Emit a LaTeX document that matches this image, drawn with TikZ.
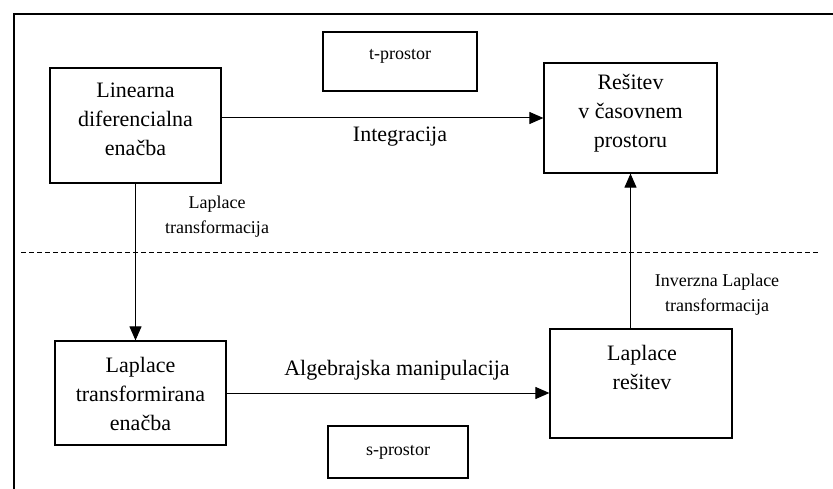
\documentclass[tikz,border=0pt]{standalone}
\usepackage{fontspec}
\setmainfont{Liberation Serif}
\usetikzlibrary{arrows.meta}

\tikzset{
  box/.style={draw=black, line width=1.2pt, rectangle, inner sep=0pt},
  boxtext/.style={align=center, inner sep=0pt, font=\fontsize{22}{29}\selectfont},
  spacetext/.style={align=center, inner sep=0pt, font=\fontsize{18}{24}\selectfont},
  arrlabel/.style={align=center, inner sep=0pt, font=\fontsize{22}{29}\selectfont},
  smalllabel/.style={align=center, inner sep=0pt, font=\fontsize{18}{25}\selectfont},
  arr/.style={line width=1pt, -{Triangle[length=14pt,width=12pt]}},
  frameline/.style={line width=2.2pt},
  divider/.style={line width=1pt, dash pattern=on 5pt off 3pt},
}

\begin{document}
\begin{tikzpicture}[x=1pt, y=-1pt]
  \useasboundingbox (0,0) rectangle (833,489);

  % outer frame (top and left edges)
  \coordinate (fbl) at (14,489);
  \coordinate (ftl) at (14,14);
  \coordinate (ftr) at (833,14);
  \draw[frameline] (fbl) -- (ftl) -- (ftr);

  % divider between t-space and s-space
  \coordinate (dl) at (21,253);
  \coordinate (dr) at (820,253);
  \draw[divider] (dl) -- (dr);

  % boxes
  \node[box, minimum width=171pt, minimum height=115pt] (lde) at (135.5,125.5) {};
  \node[box, minimum width=154pt, minimum height=59pt]  (tsp) at (400,61.5) {};
  \node[box, minimum width=173pt, minimum height=110pt] (sol) at (630.5,118) {};
  \node[box, minimum width=171pt, minimum height=104pt] (lte) at (140.5,393) {};
  \node[box, minimum width=182pt, minimum height=109pt] (lsol) at (641,383.5) {};
  \node[box, minimum width=140pt, minimum height=52pt]  (ssp) at (398,452) {};

  % box texts
  \node[boxtext] (ldet) at (135.5,119) {Linearna\\diferencialna\\enačba};
  \node[spacetext] (tspt) at (400,56) {t-prostor};
  \node[boxtext] (solt) at (630.5,113) {Rešitev\\v časovnem\\prostoru};
  \node[boxtext] (ltet) at (140.5,394) {Laplace\\transformirana\\enačba};
  \node[boxtext] (lsolt) at (642,367.5) {Laplace\\rešitev};
  \node[spacetext] (sspt) at (398,452) {s-prostor};

  % connectors
  \draw[arr] (lde.east |- sol.west) -- (sol.west);
  \draw[arr] (lde.south) -- (lde.south |- lte.north);
  \draw[arr] (lte.east) -- (lte.east -| lsol.west);
  \draw[arr] (lsol.north -| sol.south) -- (sol.south);

  % connector labels
  \node[arrlabel] (lint) at (400,137) {Integracija};
  \node[arrlabel] (lalg) at (397,370) {Algebrajska manipulacija};
  \node[smalllabel] (llap) at (217,217) {Laplace\\transformacija};
  \node[smalllabel] (linv) at (717,295) {Inverzna Laplace\\transformacija};
\end{tikzpicture}
\end{document}
